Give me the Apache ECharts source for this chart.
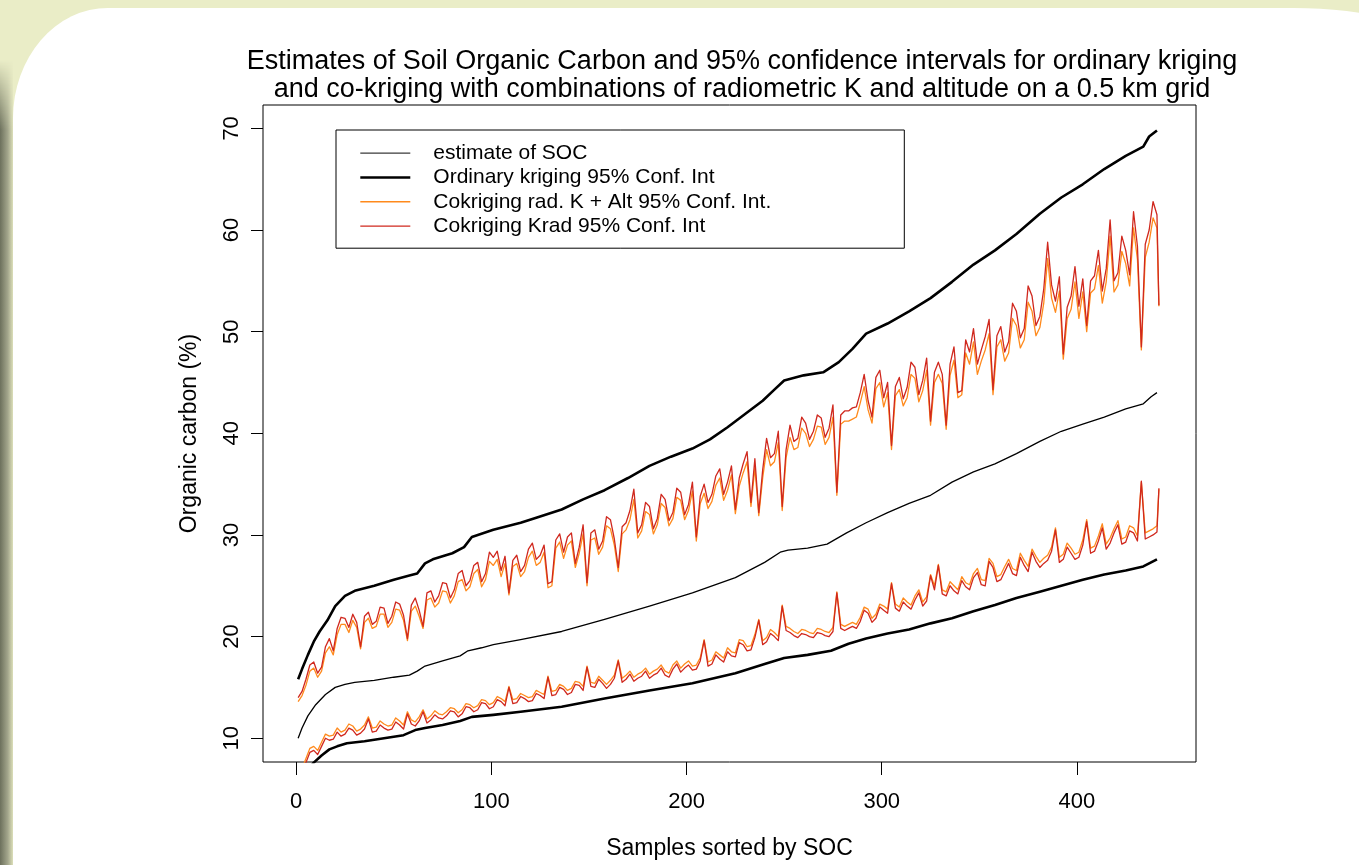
<!DOCTYPE html>
<html>
<head>
<meta charset="utf-8">
<script src="https://cdn.jsdelivr.net/npm/echarts@6/dist/echarts.min.js"></script>
<style>
  html, body { margin:0; padding:0; width:1359px; height:865px; overflow:hidden; background:#eaedc7; }
  #panel { position:absolute; left:13px; top:8px; width:1420px; height:900px; background:#fff;
           border-top-left-radius:95px 110px; border-top-right-radius:140px 40px; }
  #shadow { position:absolute; left:0; top:60px; width:13px; height:805px;
            background:linear-gradient(to right, #6c705c, #a3a68c 60%, #dcdfb9);
            -webkit-mask-image:linear-gradient(to bottom, transparent, #000 70px);
            mask-image:linear-gradient(to bottom, transparent, #000 70px); }
  #chart { position:absolute; left:0; top:0; width:1359px; height:865px; }
</style>
</head>
<body>
<div id="shadow"></div>
<div id="panel"></div>
<div id="chart"></div>
<script>
// ---- tick labels ----
const xTicks = [0, 100, 200, 300, 400];
const yTicks = [10, 20, 30, 40, 50, 60, 70];

// ---- estimate of SOC (thin black) ----
const socX = [1,3,6,10,15,20,25,30,40,50,58,62,66,75,84,88,95,101,115,136,158,181,203,225,240,248,252,262,272,282,292,303,314,325,336,347,358,369,381,392,403,414,425,434,438,441];
const socY = [10.0,11.0,12.2,13.3,14.3,15.0,15.3,15.5,15.7,16.0,16.2,16.6,17.1,17.6,18.1,18.6,18.9,19.2,19.7,20.5,21.7,23.0,24.3,25.8,27.3,28.3,28.5,28.7,29.1,30.2,31.2,32.2,33.1,33.9,35.2,36.2,37.0,38.0,39.2,40.2,40.9,41.6,42.4,42.9,43.6,44.0];

// ---- ordinary kriging 95% CI (thick black) ----
const okUpX = [1,3,6,9,12,16,20,25,30,40,50,58,62,66,70,80,86,90,101,115,123,136,147,158,170,181,192,203,212,221,230,239,245,250,260,270,278,285,292,303,314,325,336,347,358,369,381,392,403,414,425,434,437,441];
const okUpY = [15.8,16.8,18.2,19.5,20.5,21.6,23.0,24.0,24.5,25.0,25.6,26.0,26.2,27.2,27.6,28.2,28.8,29.8,30.5,31.2,31.7,32.5,33.5,34.4,35.6,36.8,37.7,38.5,39.4,40.6,41.9,43.2,44.3,45.2,45.7,46.0,47.0,48.3,49.8,50.8,52.0,53.3,54.9,56.6,58.0,59.6,61.6,63.2,64.5,66.0,67.3,68.2,69.2,69.8];
const okLoX = [1,5,9,13,17,21,26,35,45,55,61,66,75,84,90,101,115,136,158,181,203,225,240,250,262,274,283,292,303,314,325,336,347,358,369,381,392,403,414,425,434,441];
const okLoY = [5.0,6.6,7.6,8.3,8.9,9.2,9.5,9.7,10.0,10.3,10.8,11.0,11.3,11.7,12.1,12.3,12.6,13.1,13.9,14.7,15.4,16.4,17.3,17.9,18.2,18.6,19.3,19.8,20.3,20.7,21.3,21.8,22.5,23.1,23.8,24.4,25.0,25.6,26.1,26.5,26.9,27.6];

// ---- co-kriging: sample index (every 2nd sample) ----
const ckX = [
1,3,5,7,9,11,13,15,17,19,
21,23,25,27,29,31,33,35,37,39,
41,43,45,47,49,51,53,55,57,59,
61,63,65,67,69,71,73,75,77,79,
81,83,85,87,89,91,93,95,97,99,
101,103,105,107,109,111,113,115,117,119,
121,123,125,127,129,131,133,135,137,139,
141,143,145,147,149,151,153,155,157,159,
161,163,165,167,169,171,173,175,177,179,
181,183,185,187,189,191,193,195,197,199,
201,203,205,207,209,211,213,215,217,219,
221,223,225,227,229,231,233,235,237,239,
241,243,245,247,249,251,253,255,257,259,
261,263,265,267,269,271,273,275,277,279,
281,283,285,287,289,291,293,295,297,299,
301,303,305,307,309,311,313,315,317,319,
321,323,325,327,329,331,333,335,337,339,
341,343,345,347,349,351,353,355,357,359,
361,363,365,367,369,371,373,375,377,379,
381,383,385,387,389,391,393,395,397,399,
401,403,405,407,409,411,413,415,417,419,
421,423,425,427,429,431,433,435,437,439,
441,442];

// Cokriging Krad (red) upper CI
const kradUp = [
14.0,14.6,15.8,17.2,17.5,16.4,17.0,19.0,19.8,18.6,
20.8,21.9,21.8,20.9,22.2,21.4,19.0,22.0,22.4,21.2,
21.5,22.9,22.8,21.3,22.0,23.4,23.2,22.1,19.8,23.1,
23.8,22.6,21.0,24.3,24.5,23.4,24.0,25.3,25.2,23.8,
24.6,26.2,26.5,25.0,25.5,27.0,27.3,25.4,26.2,28.3,
27.8,28.4,26.5,27.9,24.3,27.5,28.0,26.4,27.0,28.6,
29.2,27.6,28.0,29.0,25.2,25.4,29.5,30.1,28.3,29.8,
30.2,27.2,28.8,31.0,25.3,30.2,30.5,28.6,29.4,31.8,
31.5,29.6,26.8,30.8,31.2,32.4,34.5,30.2,31.0,33.2,
32.8,30.6,31.6,34.0,33.5,31.4,32.2,34.6,34.2,32.0,
33.0,35.2,29.8,33.8,35.0,33.2,34.0,35.8,36.5,34.0,
35.2,36.8,32.5,35.6,37.0,38.2,33.2,37.5,32.2,36.4,
39.5,37.6,38.0,40.2,32.8,38.4,40.8,39.2,39.5,41.6,
41.0,39.4,40.2,41.8,41.5,39.6,40.5,42.8,34.2,41.8,
42.2,42.2,42.5,42.6,44.0,45.8,43.2,41.6,45.5,46.2,
43.5,45.0,38.8,44.6,45.5,43.4,44.5,47.0,46.5,43.8,
45.2,47.4,41.2,46.0,47.0,45.8,40.8,46.8,48.5,44.0,
44.2,49.2,48.0,50.3,46.8,48.2,49.5,51.2,44.3,49.6,
50.5,48.0,49.0,52.8,52.0,49.4,50.3,54.5,53.5,50.6,
51.5,54.2,58.8,54.6,53.0,55.4,47.8,52.4,53.5,56.4,
52.5,55.2,50.6,55.0,55.5,58.0,54.0,56.2,61.0,55.0,
55.8,59.4,58.0,55.6,61.8,58.4,48.5,58.6,60.0,62.8,
61.5,52.6];

// Cokriging Krad (red) lower CI
const kradLo = [
5.5,6.6,7.6,8.6,8.8,8.4,9.2,10.0,9.8,9.9,
10.6,10.2,10.4,11.0,10.8,10.3,10.5,10.9,11.9,10.6,
10.7,11.3,11.0,10.8,10.9,11.6,11.3,10.9,12.4,11.4,
11.2,11.7,12.6,11.5,11.8,12.3,12.0,11.9,12.2,12.7,
12.6,12.1,12.4,13.1,13.0,12.6,12.8,13.5,13.4,12.9,
13.1,13.8,13.6,13.2,15.0,13.4,13.5,14.1,13.9,13.6,
13.7,14.4,14.2,13.9,16.0,14.2,14.3,15.0,14.8,14.3,
14.5,15.3,15.2,14.7,17.0,15.1,15.0,15.8,15.4,14.9,
15.3,15.9,17.6,15.5,15.8,16.3,15.6,15.9,16.1,16.6,
15.9,16.2,16.4,16.9,16.2,16.0,16.8,17.3,16.5,16.9,
17.2,16.7,16.8,17.6,19.6,17.1,17.3,18.2,17.8,17.5,
18.5,18.1,18.0,19.4,19.2,18.6,18.7,19.9,21.6,19.2,
19.5,20.3,20.0,19.6,23.0,20.6,20.4,20.1,19.9,20.3,
20.2,20.0,19.9,20.4,20.3,20.1,20.0,20.5,24.3,20.8,
20.6,20.8,21.0,20.8,21.5,22.6,22.3,21.4,21.8,22.9,
22.6,22.3,25.2,22.8,22.5,23.4,23.0,22.7,23.6,24.3,
23.0,23.5,26.0,24.6,27.0,24.2,24.0,25.0,24.5,24.2,
25.5,24.9,24.6,25.8,26.3,25.1,25.0,27.4,26.8,25.4,
25.6,26.4,27.2,26.2,26.0,27.8,27.0,26.4,28.3,27.4,
26.8,27.2,27.5,28.4,30.5,27.3,27.6,28.8,28.2,27.6,
27.8,29.0,31.3,28.2,28.4,29.4,30.7,28.6,29.2,30.2,
31.0,29.1,29.3,30.4,30.2,29.4,35.3,29.6,29.8,30.0,
30.3,34.6];

// Cokriging rad. K + Alt (orange) upper CI
const kaltUp = [
13.6,14.2,15.2,16.6,16.9,16.0,16.6,18.4,19.0,18.2,
20.2,21.2,21.2,20.4,21.6,20.9,18.8,21.4,21.8,20.8,
21.0,22.2,22.2,20.9,21.4,22.7,22.6,21.6,19.6,22.5,
23.0,22.0,20.8,23.6,23.8,22.9,23.3,24.5,24.4,23.3,
24.0,25.4,25.6,24.5,24.9,26.2,26.6,24.9,25.6,27.4,
27.0,27.6,25.9,27.2,24.1,26.9,27.2,25.9,26.4,27.8,
28.4,27.0,27.3,28.3,24.8,25.0,28.7,29.3,27.7,29.0,
29.4,26.8,28.2,30.1,25.0,29.5,29.7,28.1,28.8,30.9,
30.6,29.0,26.4,30.1,30.5,31.5,33.5,29.7,30.4,32.3,
32.0,30.1,31.0,33.1,32.7,30.9,31.6,33.7,33.4,31.5,
32.4,34.3,29.4,33.1,34.1,32.6,33.3,34.9,35.6,33.4,
34.4,35.9,32.1,34.8,36.1,37.2,32.8,36.6,31.9,35.6,
38.4,36.8,37.2,39.1,32.4,37.6,39.6,38.4,38.6,40.5,
40.0,38.7,39.4,40.7,40.6,38.9,39.6,41.6,33.9,40.9,
41.2,41.2,41.4,41.6,43.0,44.6,42.3,41.0,44.4,45.0,
42.6,44.0,38.4,43.7,44.3,42.7,43.5,45.8,45.4,43.1,
44.2,46.2,40.8,45.0,45.8,44.9,40.4,45.7,47.2,43.5,
43.8,47.9,46.8,49.0,45.8,47.1,48.2,49.8,43.8,48.5,
49.2,47.1,47.9,51.3,50.6,48.4,49.2,52.9,52.0,49.6,
50.4,52.8,57.2,53.3,51.9,54.0,47.3,51.3,52.2,54.9,
51.3,53.9,50.0,53.8,54.2,56.5,52.8,54.9,59.4,53.9,
54.6,57.9,56.7,54.5,60.2,57.1,48.2,57.3,58.8,61.2,
60.2,52.5];

// Cokriging rad. K + Alt (orange) lower CI
const kaltLo = [
5.9,7.0,8.0,9.0,9.2,8.8,9.6,10.4,10.2,10.3,
11.0,10.6,10.8,11.4,11.2,10.7,10.9,11.3,12.1,11.0,
11.1,11.7,11.4,11.2,11.3,12.0,11.7,11.3,12.6,11.8,
11.6,12.1,12.8,11.9,12.2,12.7,12.4,12.3,12.6,13.0,
12.9,12.5,12.8,13.4,13.3,13.0,13.2,13.8,13.7,13.3,
13.5,14.1,13.9,13.6,15.1,13.8,13.9,14.4,14.2,14.0,
14.1,14.7,14.5,14.3,16.1,14.6,14.7,15.3,15.1,14.7,
14.9,15.6,15.5,15.1,17.1,15.5,15.4,16.1,15.7,15.3,
15.7,16.2,17.7,15.9,16.2,16.6,16.0,16.3,16.5,16.9,
16.3,16.6,16.8,17.2,16.6,16.4,17.2,17.6,16.9,17.3,
17.6,17.1,17.2,17.9,19.7,17.5,17.7,18.5,18.2,17.9,
18.9,18.5,18.4,19.7,19.6,19.0,19.1,20.2,21.7,19.6,
19.9,20.7,20.4,20.0,23.1,21.0,20.8,20.5,20.3,20.7,
20.6,20.4,20.3,20.8,20.7,20.5,20.4,20.9,24.4,21.2,
21.0,21.2,21.4,21.2,21.9,22.9,22.7,21.8,22.2,23.2,
23.0,22.7,25.3,23.2,22.9,23.8,23.4,23.1,24.0,24.6,
23.4,23.9,26.1,25.0,27.1,24.6,24.4,25.4,25.0,24.6,
25.9,25.3,25.1,26.2,26.7,25.6,25.5,27.7,27.2,25.9,
26.1,26.9,27.6,26.7,26.5,28.2,27.5,26.9,28.6,27.9,
27.3,27.7,28.0,28.8,30.7,27.8,28.1,29.2,28.7,28.1,
28.3,29.5,31.5,28.7,28.9,29.9,31.1,29.1,29.7,30.6,
31.4,29.6,29.8,30.9,30.7,29.9,35.2,30.2,30.4,30.6,
30.9,34.5];

// ---- names / labels ----
const seriesNames = ['estimate of SOC', 'Ordinary kriging 95% Conf. Int',
  'Cokriging rad. K + Alt 95% Conf. Int.', 'Cokriging Krad 95% Conf. Int'];
const titleText = 'Estimates of Soil Organic Carbon and 95% confidence intervals for ordinary kriging\nand co-kriging with combinations of radiometric K and altitude on a 0.5 km grid';

const FONT = '"Liberation Sans", Arial, Helvetica, sans-serif';
const pairs = (xs, ys) => xs.map((x, i) => [x, ys[i]]);
const lineSeries = (name, xs, ys, color, width) => ({
  name, type: 'line', data: pairs(xs, ys), symbol: 'none', showSymbol: false,
  clip: true, animation: false, silent: true,
  lineStyle: { color, width, join: 'round' }, itemStyle: { color }
});

const BLACK = '#000000', ORANGE = '#ff8a1c', RED = '#d0281e';
const legendWidths = [1.1, 2.6, 1.3, 1.3];
const legendColors = ['#3a3a3a', BLACK, ORANGE, RED];

const chart = echarts.init(document.getElementById('chart'), null, { renderer: 'canvas' });
chart.setOption({
  backgroundColor: 'transparent',
  animation: false,
  textStyle: { fontFamily: FONT },
  title: {
    text: titleText, left: 737, top: 42, textAlign: 'center',
    textStyle: { fontFamily: FONT, fontSize: 27, fontWeight: 'normal', color: '#000', lineHeight: 28.5 }
  },
  legend: {
    orient: 'vertical', left: 336, top: 130,
    data: seriesNames.map((n, i) => ({ name: n, lineStyle: { width: legendWidths[i], color: legendColors[i] } })),
    itemWidth: 50, itemHeight: 14, itemGap: 0,
    itemStyle: { opacity: 0 },
    padding: [11, 11, 10, 23],
    borderColor: '#000', borderWidth: 1, backgroundColor: 'transparent',
    selectedMode: false,
    textStyle: { fontFamily: FONT, fontSize: 21, color: '#000', lineHeight: 24.3, width: 460, padding: [0, 0, 0, 18] }
  },
  grid: { left: 263, right: 163, top: 105, bottom: 98, show: true, borderColor: '#000', borderWidth: 1, backgroundColor: 'transparent', containLabel: false },
  xAxis: {
    type: 'value', min: -17, max: 461,
    name: 'Samples sorted by SOC', nameLocation: 'middle', nameGap: 75,
    nameTextStyle: { fontFamily: FONT, fontSize: 23, color: '#000' },
    axisLine: { show: false, onZero: false },
    splitLine: { show: false },
    axisTick: { show: true, length: 13, lineStyle: { color: '#000', width: 1 }, customValues: xTicks },
    axisLabel: { customValues: xTicks, fontFamily: FONT, fontSize: 22, color: '#000', margin: 29 }
  },
  yAxis: {
    type: 'value', min: 7.66, max: 72.3,
    name: 'Organic carbon (%)', nameLocation: 'middle', nameGap: 62, nameRotate: 90,
    nameTextStyle: { fontFamily: FONT, fontSize: 23, color: '#000' },
    axisLine: { show: false, onZero: false },
    splitLine: { show: false },
    axisTick: { show: true, length: 12, lineStyle: { color: '#000', width: 1 }, customValues: yTicks },
    axisLabel: { customValues: yTicks, rotate: 90, fontFamily: FONT, fontSize: 22, color: '#000', margin: 20 }
  },
  series: [
    lineSeries(seriesNames[0], socX, socY, BLACK, 1.3),
    lineSeries(seriesNames[1], okUpX, okUpY, BLACK, 2.6),
    lineSeries(seriesNames[1], okLoX, okLoY, BLACK, 2.6),
    lineSeries(seriesNames[2], ckX, kaltUp, ORANGE, 1.3),
    lineSeries(seriesNames[2], ckX, kaltLo, ORANGE, 1.3),
    lineSeries(seriesNames[3], ckX, kradUp, RED, 1.3),
    lineSeries(seriesNames[3], ckX, kradLo, RED, 1.3)
  ]
});
</script>
</body>
</html>
